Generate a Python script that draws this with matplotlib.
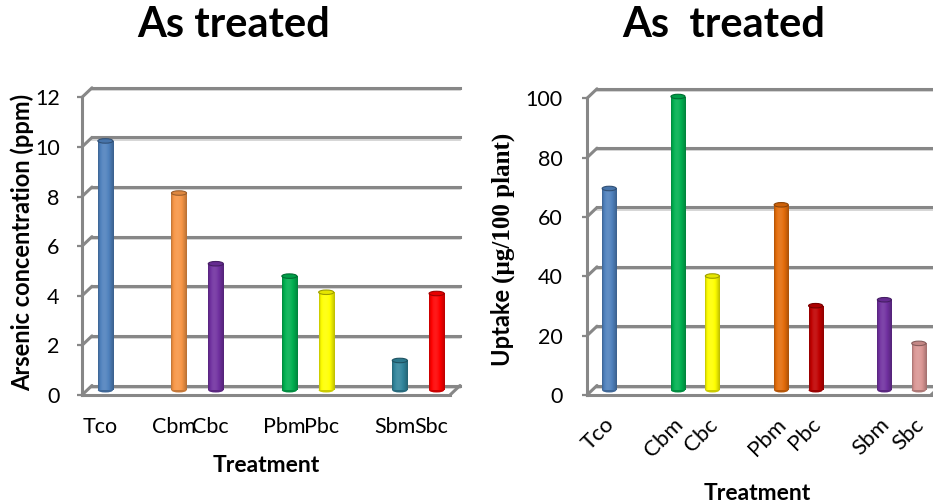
import numpy as np
import matplotlib
matplotlib.use('Agg')
import matplotlib.pyplot as plt
from matplotlib.patches import Ellipse, ConnectionPatch
from matplotlib.transforms import Affine2D
from matplotlib.colors import to_rgb

# treatments, with empty slots between the groups
categories = ['Tco', '', 'Cbm', 'Cbc', '', 'Pbm', 'Pbc', '', 'Sbm', 'Sbc']
arsenic_ppm = [10.05, np.nan, 7.95, 5.1, np.nan, 4.6, 3.95, np.nan, 1.2, 3.9]
uptake = [68.0, np.nan, 99.0, 38.5, np.nan, 62.5, 28.5, np.nan, 30.5, 15.8]

colors_as = ['#4F81BD', None, '#F79646', '#7030A0', None, '#00B050', '#FFFF00', None, '#31859C', '#FF0000']
colors_up = ['#4F81BD', None, '#00B050', '#FFFF00', None, '#E46C0A', '#C00000', None, '#7030A0', '#DA9694']

W, H = 933, 503
GRID = '#878787'
SANS = 'Lato'
SERIF = 'Liberation Serif'
DEPTH = (10, 9.5)   # back wall offset in pixels

plt.rcParams['font.family'] = [SANS, 'DejaVu Sans']

fig = plt.figure(figsize=(W / 100, H / 100), dpi=100)


def box(x0, y0, x1, y1):
    # pixel box (top-left origin) -> figure fraction rect
    return [x0 / W, 1 - y1 / H, (x1 - x0) / W, (y1 - y0) / H]


def shade(c, f):
    rgb = np.array(to_rgb(c))
    if f >= 1:
        return rgb + (1 - rgb) * min(f - 1, 1)
    return rgb * f


def cylinders(ax, xs, vals, cols, width, tr):
    y0, y1 = ax.get_ylim()
    cap_h = 4.5 * (y1 - y0) / ax.bbox.height
    t = np.linspace(0, 1, 64)
    prof = 0.74 + 0.36 * np.sin(np.pi * t ** 0.75)
    for x, v, c in zip(xs, vals, cols):
        if np.isnan(v):
            continue
        ax.add_patch(Ellipse((x, 0), width, cap_h, transform=tr, fc=shade(c, 0.8),
                             ec='none', zorder=2.9, clip_on=False))
        bar = ax.bar(x, v, width, color=c, transform=tr, zorder=3, clip_on=False)[0]
        grad = np.array([[shade(c, f) for f in prof]])
        im = ax.imshow(grad, extent=(x - width / 2, x + width / 2, 0, v), aspect='auto',
                       interpolation='bilinear', zorder=3.1)
        im.set_transform(tr)
        im.set_clip_path(bar)
        ax.add_patch(Ellipse((x, v), width, cap_h, transform=tr, fc=shade(c, 0.9),
                             ec=shade(c, 0.62), lw=0.8, zorder=3.2, clip_on=False))


def frame3d(ax, ymax, step, tick_pad):
    n = len(categories)
    ax.set_xlim(-0.5, n - 0.5)
    ax.set_ylim(0, ymax)
    back = ax.transData + Affine2D().translate(*DEPTH)
    shadow = back + Affine2D().translate(0, -2.2)
    for y in np.arange(0, ymax + step / 2, step):
        ax.plot([-0.5, n - 0.5], [y, y], transform=shadow, color='#cfcfcf', lw=1.2,
                zorder=1, clip_on=False)
        ax.plot([-0.5, n - 0.5], [y, y], transform=back, color=GRID, lw=2.2,
                zorder=1.1, clip_on=False)
        ax.add_artist(ConnectionPatch((-0.5, y), (-0.5, y), coordsA=ax.transData,
                                      coordsB=back, color=GRID, lw=2.2, zorder=1.2))
    ax.add_artist(ConnectionPatch((n - 0.5, 0), (n - 0.5, 0), coordsA=ax.transData,
                                  coordsB=back, color=GRID, lw=2.2, zorder=1.2))
    for side in ('top', 'right'):
        ax.spines[side].set_visible(False)
    for side in ('left', 'bottom'):
        ax.spines[side].set_color(GRID)
        ax.spines[side].set_linewidth(2.2)
        ax.spines[side].set_zorder(1.3)
    ax.patch.set_visible(False)
    ax.set_yticks(np.arange(0, ymax + step / 2, step))
    ax.tick_params(axis='y', length=3.6, width=1.6, color=GRID, labelsize=15.5, pad=tick_pad)
    ax.tick_params(axis='x', length=0, labelsize=15.5)
    idx = [i for i, c in enumerate(categories) if c]
    ax.set_xticks(idx)
    ax.set_xticklabels([categories[i] for i in idx])
    return ax.transData + Affine2D().translate(DEPTH[0] / 2, DEPTH[1] / 2)


# arsenic concentration
ax1 = fig.add_axes(box(82, 97.3, 450, 395))
mid1 = frame3d(ax1, 12, 2, 12.5)
ax1.tick_params(axis='x', pad=16)
cylinders(ax1, np.arange(len(categories)), arsenic_ppm, colors_as, 0.41, mid1)
ax1.set_xlim(-0.5, len(categories) - 0.5)
ax1.set_ylim(0, 12)

# uptake
ax2 = fig.add_axes(box(587, 98.3, 931, 395))
mid2 = frame3d(ax2, 100, 20, 14)
ax2.tick_params(axis='x', pad=14)
for lab in ax2.get_xticklabels():
    lab.set_rotation(45)
    lab.set_ha('right')
    lab.set_va('top')
    lab.set_rotation_mode('anchor')
    lab.set_fontsize(16)
cylinders(ax2, np.arange(len(categories)), uptake, colors_up, 0.41, mid2)
ax2.set_xlim(-0.5, len(categories) - 0.5)
ax2.set_ylim(0, 100)

# titles and axis names
fig.text(234 / W, 1 - 25 / H, 'As treated', ha='center', va='center',
         fontsize=30, fontweight='bold')
fig.text(724 / W, 1 - 25 / H, 'As  treated', ha='center', va='center',
         fontsize=30, fontweight='bold')
fig.text(266 / W, 1 - 466 / H, 'Treatment', ha='center', va='center',
         fontsize=16.5, fontweight='bold')
fig.text(757 / W, 1 - 494 / H, 'Treatment', ha='center', va='center',
         fontsize=16.5, fontweight='bold')
fig.text(22 / W, 1 - 242 / H, 'Arsenic concentration (ppm)', rotation=90,
         ha='center', va='center', fontsize=17, fontweight='bold')
up = fig.text(503 / W, 1 - 366 / H, 'Uptake ', rotation=90, ha='center', va='bottom',
              fontsize=17, fontweight='bold')
ax2.annotate('(µg/100 plant)', xy=(0.5, 1), xycoords=up, rotation=90, ha='center',
             va='bottom', fontsize=18, fontweight='bold',
             family=[SERIF, 'DejaVu Serif'], annotation_clip=False)

fig.savefig('out.png', dpi=100)
